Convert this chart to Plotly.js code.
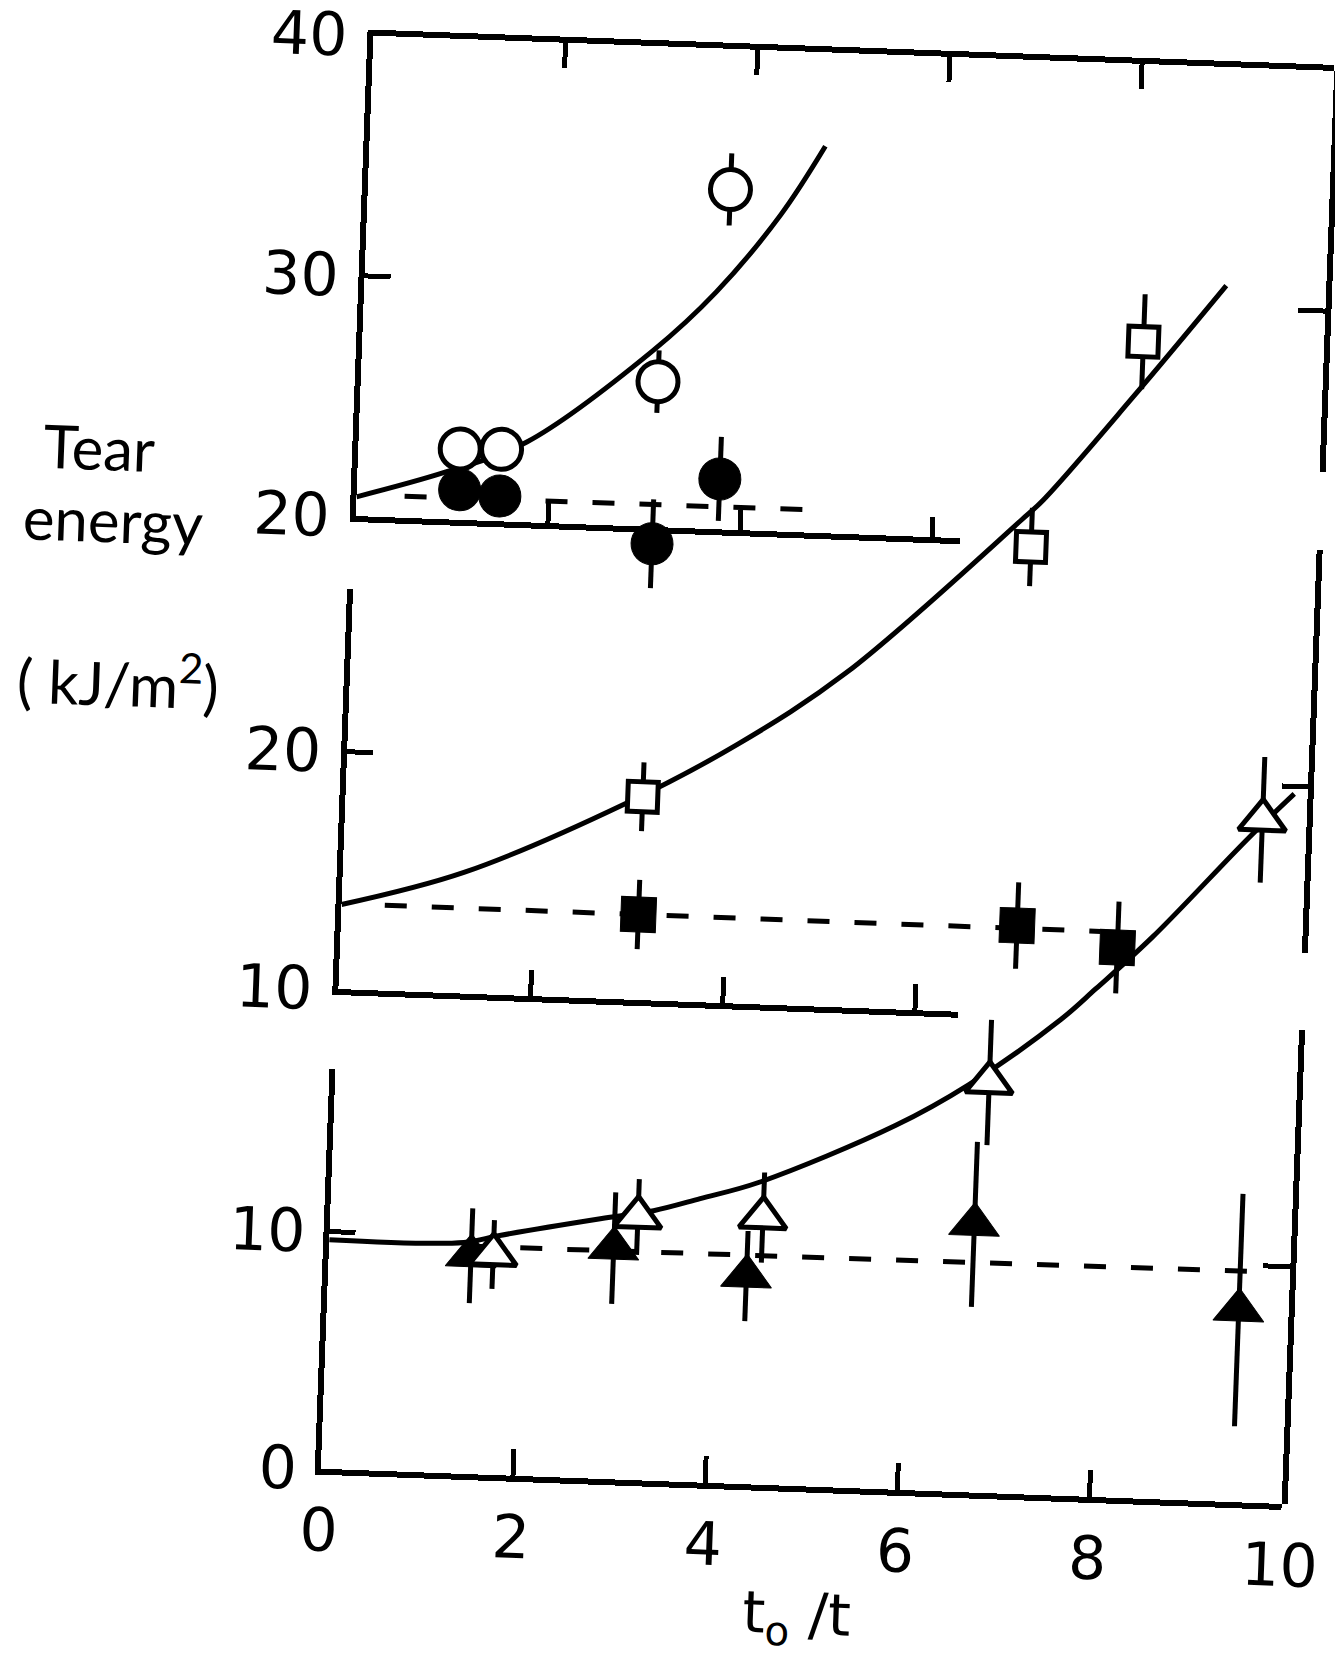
<!DOCTYPE html>
<html>
<head>
<meta charset="utf-8">
<script src="https://cdn.plot.ly/plotly-3.0.1.min.js"></script>
<style>
html,body{margin:0;padding:0;background:#fff;overflow:hidden;width:1335px;height:1658px;}
#wrap{width:1400px;height:1720px;transform-origin:667.5px 829px;}
#plot{width:1400px;height:1720px;}
</style>
</head>
<body>
<div id="wrap"><div id="plot"></div></div>
<script>
// ---------------- data ----------------
// x = t0/t ; y = tear energy (kJ/m^2), each panel on its own scale
// top panel : circles
const openCircleX   = [1.06, 1.49, 3.09, 3.77];
const openCircleY   = [22.95, 23.0, 26.05, 34.15];
const openCircleErr = [0, 0, 1.3, 1.5];
const filledCircleX   = [1.07, 1.49, 3.09, 3.77];
const filledCircleY   = [21.25, 21.05, 19.3, 22.1];
const filledCircleErr = [0, 0, 1.85, 1.75];
const circleCurveX = [0, 0.92, 1.75, 3.02, 3.66, 4.30, 4.74];
const circleCurveY = [20.8, 21.97, 23.34, 27.31, 29.86, 33.16, 36.09];
const circleDashX = [0.5, 4.67];
const circleDashY = [20.9, 20.95];

// middle panel : squares
const openSquareX   = [3.09, 7.03, 8.12];
const openSquareY   = [18.56, 29.67, 38.48];
const openSquareErr = [1.45, 1.65, 2.0];
const filledSquareX   = [3.09, 7.03, 8.08];
const filledSquareY   = [13.6, 13.72, 12.95];
const filledSquareErr = [1.46, 1.82, 1.93];
const squareCurveX = [0, 1.26, 2.91, 4.05, 5.16, 6.92, 7.14, 8.03, 8.96];
const squareCurveY = [13.56, 15.1, 18.24, 20.9, 24.1, 30.79, 31.67, 36.12, 40.97];
const squareDashX = [0.45, 7.9];
const squareDashY = [13.6, 13.6];

// bottom panel : triangles
const openTriX   = [1.71, 3.20, 4.50, 6.80, 9.54];
const openTriY   = [9.29, 11.09, 11.26, 17.3, 28.78];
const openTriErr = [1.45, 1.6, 1.9, 2.64, 2.65];
const filledTriX   = [1.48, 2.96, 4.35, 6.70, 9.48];
const filledTriY   = [9.20, 9.74, 8.77, 11.3, 8.1];
const filledTriErr = [2.0, 2.35, 1.9, 3.48, 4.9];
const triCurveX = [0, 1.40, 1.77, 2.81, 3.36, 3.84, 4.44, 5.84, 6.59, 7.52, 7.87, 8.44, 9.41, 9.86];
const triCurveY = [9.66, 9.75, 10.1, 10.96, 11.38, 11.96, 12.73, 15.34, 17.18, 20.06, 21.4, 23.67, 28.03, 29.92];
const triDashX = [1.5, 9.75];
const triDashY = [9.6, 9.75];

// tick labels and texts
const xTickVals = [0, 2, 4, 6, 8, 10];
const xTickText = ['0', '2', '4', '6', '8', '10'];
const topTickVals = [20, 30, 40];
const topTickText = ['20', '30', '40'];
const midTickVals = [10, 20];
const midTickText = ['10', '20'];
const botTickVals = [0, 10];
const botTickText = ['0', '10'];
const xTitle = 't<sub>o</sub> /t';
const yTitleLines = ['Tear', 'energy', '( kJ/m<sup>2</sup>)'];

// ---------------- layout geometry ----------------
// drawing surface slightly larger than the 1335x1658 page so nothing is clipped
const W = 1400, H = 1720;
const FONT_NUM = 'DejaVu Sans, sans-serif';
const FONT_TXT = 'Lato, DejaVu Sans, sans-serif';
const X0 = 344.5, X10 = 1306;
const PPX = (X10 - X0) / 10;
const fx = p => p / W;
const fy = p => 1 - p / H;
const xEnd = p => (p - X0) / PPX;

const P_TOP = {v0: 20, p0: 527.7, s: 24.035};
const P_MID = {v0: 10, p0: 1001, s: 23.75};
const P_BOT = {v0: 0, p0: 1481, s: 23.73};
const ypix = (P, v) => P.p0 - (v - P.v0) * P.s;
const ySpan = (P, lo, hi) => ({domain: [fy(ypix(P, lo)), fy(ypix(P, hi))], range: [lo, hi]});
const yFull = P => ({domain: [0, 1], range: [P.v0 - (H - P.p0) / P.s, P.v0 + P.p0 / P.s]});

const LW = 6;
function ax(extra) {
  return Object.assign({
    type: 'linear', showgrid: false, zeroline: false, showline: true,
    linecolor: '#000', linewidth: LW, ticks: 'inside', tickcolor: '#000',
    tickwidth: 5, ticklen: 26, tickmode: 'array', showticklabels: false,
    fixedrange: true, layer: 'below traces', ticklabeloverflow: 'allow',
    tickfont: {family: FONT_NUM, size: 60, color: '#000'}
  }, extra);
}
function hidden(P) {
  return Object.assign(yFull(P), {anchor: 'x3', visible: false, type: 'linear', fixedrange: true});
}

// ---------------- traces ----------------
const curve = (x, y, ya) => ({x, y, xaxis: 'x3', yaxis: ya, type: 'scatter', mode: 'lines',
  line: {color: '#000', width: 5, shape: 'spline', smoothing: 1}, cliponaxis: false, hoverinfo: 'skip'});
const dashed = (x, y, ya) => ({x, y, xaxis: 'x3', yaxis: ya, type: 'scatter', mode: 'lines',
  line: {color: '#000', width: 5, dash: '22px,25px'}, cliponaxis: false, hoverinfo: 'skip'});
const pts = (x, y, err, ya, symbol, size, fill, lw) => ({x, y, xaxis: 'x3', yaxis: ya, type: 'scatter', mode: 'markers',
  marker: {symbol, size, color: fill, line: {color: '#000', width: lw}},
  error_y: {type: 'data', array: err, visible: true, color: '#000', thickness: 5, width: 0},
  cliponaxis: false, hoverinfo: 'skip'});
const dummy = (xa, ya) => ({x: [null], y: [null], xaxis: xa, yaxis: ya, type: 'scatter', mode: 'markers', hoverinfo: 'skip'});

const data = [
  dummy('x', 'y'), dummy('x2', 'y2'), dummy('x3', 'y3'), dummy('x4', 'y'),
  dummy('x3', 'y4'), dummy('x3', 'y5'), dummy('x3', 'y6'),
  curve(circleCurveX, circleCurveY, 'y7'),
  dashed(circleDashX, circleDashY, 'y7'),
  curve(squareCurveX, squareCurveY, 'y8'),
  dashed(squareDashX, squareDashY, 'y8'),
  curve(triCurveX, triCurveY, 'y9'),
  dashed(triDashX, triDashY, 'y9'),
  pts(openCircleX, openCircleY, openCircleErr, 'y7', 'circle', 40, '#fff', 5),
  pts(filledCircleX, filledCircleY, filledCircleErr, 'y7', 'circle', 42, '#000', 1),
  pts(openSquareX, openSquareY, openSquareErr, 'y8', 'square', 30, '#fff', 5),
  pts(filledSquareX, filledSquareY, filledSquareErr, 'y8', 'square', 35, '#000', 1),
  pts(filledTriX, filledTriY, filledTriErr, 'y9', 'triangle-up', 44, '#000', 1),
  pts(openTriX, openTriY, openTriErr, 'y9', 'triangle-up', 41, '#fff', 5)
];

const ann = (text, cx, cy) => ({text, x: fx(cx), y: fy(cy), xref: 'paper', yref: 'paper',
  showarrow: false, xanchor: 'center', yanchor: 'middle',
  font: {family: FONT_TXT, size: 60, color: '#000'}});

const layout = {
  width: W, height: H, margin: {l: 0, r: 0, t: 0, b: 0, pad: 0},
  paper_bgcolor: '#fff', plot_bgcolor: 'rgba(0,0,0,0)', showlegend: false,
  xaxis: ax({anchor: 'y', domain: [fx(X0), fx(949)], range: [0, xEnd(949)], tickvals: [2, 4, 6], ticklen: 20}),
  xaxis2: ax({anchor: 'y2', domain: [fx(X0), fx(964.5)], range: [0, xEnd(964.5)], tickvals: [2, 4, 6], ticklen: 26}),
  xaxis3: ax({anchor: 'y3', domain: [fx(X0), fx(X10)], range: [0, 10], tickvals: xTickVals, ticktext: xTickText,
    showticklabels: true, ticklen: 27, ticklabelstandoff: 4,
    title: {text: xTitle, font: {family: FONT_NUM, size: 58, color: '#000'}, standoff: 14}}),
  xaxis4: ax({anchor: 'y', side: 'top', domain: [fx(X0), fx(X10)], range: [0, 10], tickvals: [2, 4, 6, 8], ticklen: 25}),
  yaxis: ax(Object.assign(ySpan(P_TOP, 20, 40), {anchor: 'x', tickvals: topTickVals, ticktext: topTickText,
    showticklabels: true, ticklabelstandoff: 8})),
  yaxis4: ax(Object.assign(ySpan(P_TOP, 23.29, 40), {anchor: 'x3', side: 'right', tickvals: [30], ticklen: 27})),
  yaxis2: ax(Object.assign(ySpan(P_MID, 10, 26.84), {anchor: 'x2', tickvals: midTickVals, ticktext: midTickText,
    showticklabels: true, ticklabelstandoff: 8})),
  yaxis5: ax(Object.assign(ySpan(P_MID, 13.0, 30), {anchor: 'x3', side: 'right', tickvals: [20, 30], ticklen: 26})),
  yaxis3: ax(Object.assign(ySpan(P_BOT, 0, 16.86), {anchor: 'x3', tickvals: botTickVals, ticktext: botTickText,
    showticklabels: true, ticklabelstandoff: 6})),
  yaxis6: ax(Object.assign(ySpan(P_BOT, 0, 20), {anchor: 'x3', side: 'right', tickvals: [10, 20], ticklen: 27})),
  yaxis7: hidden(P_TOP),
  yaxis8: hidden(P_MID),
  yaxis9: hidden(P_BOT),
  annotations: [
    ann(yTitleLines[0], 86.4, 468),
    ann(yTitleLines[1], 101.9, 539.6),
    ann(yTitleLines[2], 113.2, 699)
  ]
};

Plotly.newPlot('plot', data, layout, {staticPlot: true, displayModeBar: false}).then(function () {
  // the scanned original is tilted slightly clockwise
  document.getElementById('wrap').style.transform = 'rotate(2.1deg)';
});
</script>
</body>
</html>
